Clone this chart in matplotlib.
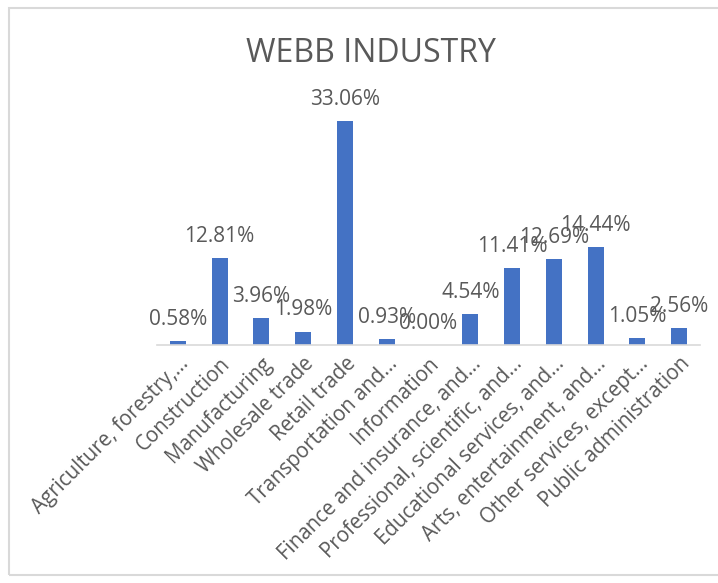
import matplotlib.pyplot as plt
from matplotlib.patches import Rectangle

industries = [
    "Agriculture, forestry,...",
    "Construction",
    "Manufacturing",
    "Wholesale trade",
    "Retail trade",
    "Transportation and...",
    "Information",
    "Finance and insurance, and...",
    "Professional, scientific, and...",
    "Educational services, and...",
    "Arts, entertainment, and...",
    "Other services, except...",
    "Public administration",
]
shares = [0.58, 12.81, 3.96, 1.98, 33.06, 0.93, 0.00, 4.54, 11.41, 12.69, 14.44, 1.05, 2.56]

W, H = 718, 583
plt.rcParams['font.family'] = ['Open Sans', 'DejaVu Sans']

fig = plt.figure(figsize=(W / 100, H / 100), dpi=100)

# chart frame
fig.patches.append(Rectangle((9 / W, 8 / H), 1.2, (575 - 8) / H, transform=fig.transFigure,
                             fill=False, edgecolor='#d9d9d9', linewidth=1.5))

ax = fig.add_axes([157 / W, 1 - 345 / H, (700 - 157) / W, (345 - 107.8) / H])
x = range(len(industries))
bars = ax.bar(x, shares, width=0.38, color='#4472C4')
ax.set_xlim(-0.5, len(industries) - 0.5)
ax.set_ylim(0, 35)

for b, v in zip(bars, shares):
    ax.annotate("{:.2f}%".format(v), (b.get_x() + b.get_width() / 2, v),
                xytext=(0, 8), textcoords='offset points', ha='center', va='bottom',
                fontsize=15, color='#595959')

for s in ['top', 'right', 'left']:
    ax.spines[s].set_visible(False)
ax.spines['bottom'].set_color('#d9d9d9')
ax.spines['bottom'].set_linewidth(1.2)
ax.set_yticks([])
ax.set_xticks(list(x))
ax.set_xticklabels(industries, rotation=45, ha='right', rotation_mode='anchor',
                   fontsize=14.8, color='#595959')
ax.tick_params(axis='x', length=0, pad=6)

fig.text(371 / W, 1 - 53 / H, "WEBB INDUSTRY", ha='center', va='center',
         fontsize=23, color='#595959')

fig.savefig("out.png", dpi=100)
